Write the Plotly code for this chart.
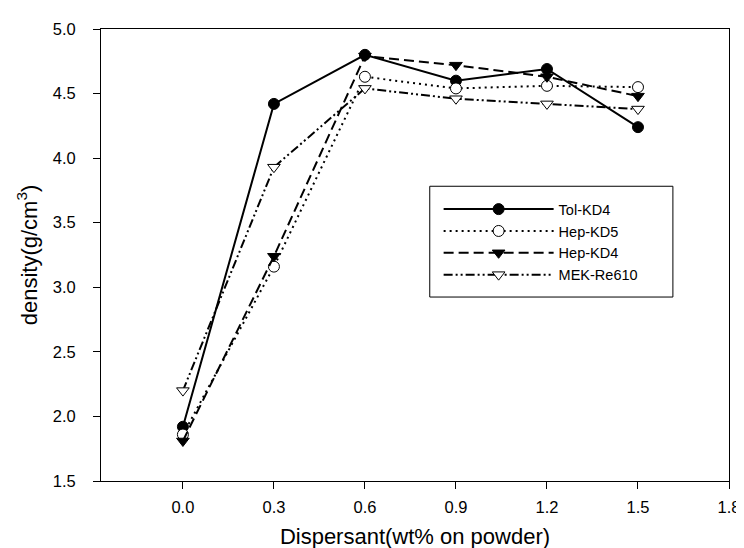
import plotly.graph_objects as go

dispersant = [0.0, 0.3, 0.6, 0.9, 1.2, 1.5]
tol_kd4 = [1.92, 4.42, 4.80, 4.60, 4.69, 4.24]
hep_kd5 = [1.86, 3.16, 4.63, 4.54, 4.56, 4.55]
hep_kd4 = [1.81, 3.24, 4.79, 4.72, 4.63, 4.48]
mek_re610 = [2.20, 3.93, 4.54, 4.46, 4.42, 4.38]

x_ticks = [0.0, 0.3, 0.6, 0.9, 1.2, 1.5, 1.8]
y_ticks = [1.5, 2.0, 2.5, 3.0, 3.5, 4.0, 4.5, 5.0]

series = [
    ("Tol-KD4", tol_kd4, "solid", "circle", "black", 11),
    ("Hep-KD5", hep_kd5, "2px,4px", "circle", "white", 11),
    ("Hep-KD4", hep_kd4, "10px,5px", "triangle-down", "black", 11),
    ("MEK-Re610", mek_re610, "9px,3px,2px,3px,2px,3px", "triangle-down", "white", 11),
]

fig = go.Figure()
for name, vals, dash, sym, fill, msize in series:
    fig.add_trace(go.Scatter(
        x=dispersant, y=vals, name=name, mode="lines+markers",
        line=dict(color="black", width=2, dash=dash),
        marker=dict(symbol=sym, size=msize, color=fill, line=dict(color="black", width=1)),
    ))

font_family = "Liberation Sans, Arial, sans-serif"
axis_common = dict(
    showgrid=False, zeroline=False, showline=True, linecolor="black", linewidth=1,
    mirror=True, ticks="outside", ticklen=7, tickcolor="black", tickwidth=1,
    tickfont=dict(family=font_family, size=16.5, color="black"),
)

# plot area in pixels
L, R, T, B = 93, 13, 18, 73
W, H = 744, 548
pw, ph = W - L - R, H - T - B

def px_x(v):
    return (v - L) / pw

def px_y(v):
    return 1 - (v - T) / ph

fig.update_layout(
    width=W, height=H,
    margin=dict(l=L, r=R, t=T, b=B),
    plot_bgcolor="white", paper_bgcolor="white",
    font=dict(family=font_family, color="black"),
    xaxis=dict(range=[-0.27, 1.8], tickvals=x_ticks, tickformat=".1f",
               ticklabelstandoff=4,
               title=dict(text="Dispersant(wt% on powder)", font=dict(size=22), standoff=13),
               **axis_common),
    yaxis=dict(range=[1.5, 5.0], tickvals=y_ticks, tickformat=".1f",
               ticklabelstandoff=14,
               title=dict(text="density(g/cm<sup>3</sup>)", font=dict(size=22), standoff=9),
               **axis_common),
    legend=dict(x=px_x(436), y=px_y(184), xanchor="left", yanchor="top",
                bgcolor="rgba(0,0,0,0)", borderwidth=0,
                font=dict(size=14.5, family=font_family), itemwidth=110, tracegroupgap=0),
    shapes=[dict(type="rect", xref="paper", yref="paper",
                 x0=px_x(427), x1=px_x(674), y0=px_y(289), y1=px_y(177),
                 line=dict(color="black", width=1), fillcolor="white", layer="below")],
    showlegend=True,
)
fig.write_html("out.html")
